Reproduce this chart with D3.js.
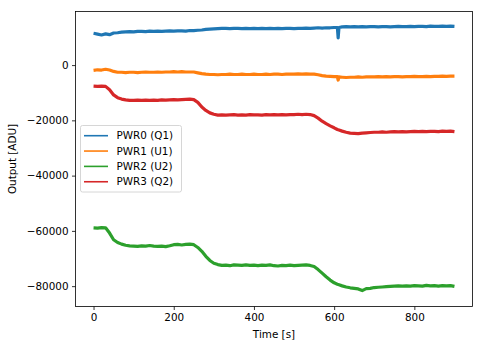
<!DOCTYPE html>
<html><head><meta charset="utf-8">
<script src="https://cdn.jsdelivr.net/npm/d3@7"></script>
<style>body{margin:0;background:#fff}svg{display:block}text{font-family:"DejaVu Sans",sans-serif;fill:#000}</style>
</head><body>
<svg id="c" width="483" height="347"></svg>
<script>
const time = [0,10,20,30,40,50,60,70,80,90,100,110,120,130,140,150,160,170,180,190,200,210,220,230,240,250,260,270,280,290,300,310,320,330,340,350,360,370,380,390,400,410,420,430,440,450,460,470,480,490,500,510,520,530,540,550,560,570,580,590,600,608,610,612,620,630,640,650,660,670,680,690,700,710,720,730,740,750,760,770,780,790,800,810,820,830,840,850,860,870,880,890,900];
const pwr0 = [11500,11200,10900,11300,11000,11600,11700,11900,12000,12100,12000,12200,12200,12100,12300,12200,12300,12200,12300,12400,12300,12400,12400,12300,12500,12500,12600,12700,12900,13000,13100,13200,13300,13300,13200,13300,13300,13200,13300,13200,13300,13200,13300,13200,13300,13200,13300,13200,13300,13300,13200,13300,13300,13400,13300,13400,13500,13400,13500,13500,13600,13600,9800,13600,13800,13900,13800,13900,13800,13900,13800,13900,13900,13800,13900,13900,13800,13900,14000,13900,13900,14000,13900,14000,14000,13900,14100,14000,14000,14100,14000,14100,14000];
const pwr1 = [-1900,-1700,-1800,-1500,-1800,-2300,-2600,-2600,-2700,-2600,-2600,-2700,-2600,-2500,-2600,-2600,-2500,-2600,-2500,-2500,-2400,-2500,-2400,-2500,-2500,-2500,-2800,-3100,-3300,-3400,-3400,-3500,-3400,-3400,-3300,-3400,-3400,-3300,-3400,-3400,-3300,-3400,-3400,-3300,-3400,-3300,-3300,-3400,-3300,-3300,-3300,-3200,-3300,-3200,-3300,-3300,-3500,-3800,-4000,-4100,-4200,-4200,-5400,-4300,-4400,-4500,-4400,-4400,-4300,-4400,-4300,-4300,-4300,-4200,-4300,-4200,-4300,-4200,-4200,-4300,-4200,-4200,-4100,-4200,-4200,-4100,-4200,-4100,-4100,-4000,-4100,-4000,-4000];
const pwr2 = [-58900,-59000,-58800,-58900,-60800,-63200,-64200,-64800,-65200,-65400,-65500,-65600,-65400,-65500,-65300,-65500,-65600,-65500,-65700,-65400,-65000,-64900,-65100,-64900,-64800,-65000,-66000,-67400,-69200,-70700,-71700,-72200,-72500,-72400,-72600,-72300,-72400,-72500,-72300,-72500,-72400,-72600,-72400,-72500,-72300,-72600,-72700,-72500,-72600,-72400,-72600,-72500,-72400,-72300,-72500,-72900,-74000,-75300,-76600,-77800,-78800,-79300,-79400,-79500,-79900,-80300,-80600,-80800,-81000,-81600,-80900,-80800,-80500,-80400,-80300,-80200,-80100,-80000,-79900,-80000,-79900,-80000,-79800,-79900,-80000,-79700,-79900,-79800,-80000,-79800,-79900,-79800,-80100];
const pwr3 = [-7600,-7700,-7600,-7700,-8900,-10800,-11800,-12300,-12600,-12800,-12800,-12700,-12800,-12700,-12800,-12700,-12800,-12600,-12700,-12600,-12500,-12600,-12500,-12400,-12300,-12500,-13500,-15200,-16400,-17300,-17800,-18100,-18000,-18100,-18000,-17900,-18100,-18000,-18100,-17900,-18000,-18000,-18100,-17900,-18000,-17900,-18000,-17900,-18000,-17900,-17900,-17800,-17900,-17800,-17900,-18300,-19200,-20300,-21200,-22000,-22700,-23300,-23400,-23500,-23900,-24300,-24600,-24700,-24800,-24600,-24500,-24400,-24300,-24300,-24200,-24300,-24200,-24100,-24200,-24100,-24200,-24100,-24000,-24100,-24000,-24100,-24000,-24000,-24100,-23900,-24000,-23900,-24100];
const seriesNames = ["PWR0 (Q1)","PWR1 (U1)","PWR2 (U2)","PWR3 (Q2)"];
const seriesColors = ["#1f77b4","#ff7f0e","#2ca02c","#d62728"];
const xTicks = [0,200,400,600,800];
const yTicks = [0,-20000,-40000,-60000,-80000];

const series = [pwr0,pwr1,pwr2,pwr3];
const svg = d3.select("#c");
const L=75.5, R=472.5, T=11.5, B=306.5;
const x = d3.scaleLinear().domain([-45,945]).range([L,R]);
const y = d3.scaleLinear().domain([-87365,19390]).range([B,T]);
const fmt = d => d<0 ? "\u2212"+Math.abs(d) : String(d);

const gx = svg.append("g").attr("transform",`translate(0,${B})`)
  .call(d3.axisBottom(x).tickValues(xTicks).tickSize(3.5).tickPadding(3.5).tickFormat(fmt));
const gy = svg.append("g").attr("transform",`translate(${L},0)`)
  .call(d3.axisLeft(y).tickValues(yTicks).tickSize(3.5).tickPadding(3.5).tickFormat(fmt));
[gx,gy].forEach(g=>{g.select(".domain").remove();g.selectAll("line").attr("stroke","#000").attr("stroke-width",0.8);
  g.selectAll("text").attr("font-size","10.4px").attr("font-family","DejaVu Sans").attr("fill","#000");});

const line = d3.line().x((d,i)=>x(time[i])).y(d=>y(d));
series.forEach((s,k)=>{
  svg.append("path").datum(s).attr("d",line).attr("fill","none")
    .attr("stroke",seriesColors[k]).attr("stroke-width",3.2).attr("stroke-linejoin","round");
});

svg.append("rect").attr("x",L).attr("y",T).attr("width",R-L).attr("height",B-T)
  .attr("fill","none").attr("stroke","#000").attr("stroke-width",0.8);

svg.append("text").attr("x",(L+R)/2).attr("y",338).attr("text-anchor","middle").attr("font-size","10.4px").text("Time [s]");
svg.append("text").attr("transform",`translate(16,${(T+B)/2}) rotate(-90)`).attr("text-anchor","middle").attr("font-size","10.4px").text("Output [ADU]");

const lg = svg.append("g");
lg.append("rect").attr("x",80.5).attr("y",125.5).attr("width",101).attr("height",66.5).attr("rx",2)
  .attr("fill","#fff").attr("fill-opacity",0.8).attr("stroke","#ccc").attr("stroke-width",0.8);
seriesNames.forEach((n,k)=>{
  const yy = 135.7 + k*15.35;
  lg.append("line").attr("x1",84).attr("x2",108).attr("y1",yy).attr("y2",yy).attr("stroke",seriesColors[k]).attr("stroke-width",1.6);
  lg.append("text").attr("x",116.5).attr("y",yy).attr("dy","0.36em").attr("font-size","10.4px").text(n);
});
</script>
</body></html>
